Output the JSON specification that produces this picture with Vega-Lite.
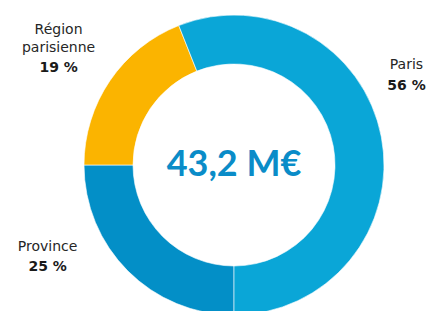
{
  "$schema": "https://vega.github.io/schema/vega-lite/v6.json",
  "width": 300,
  "height": 290,
  "autosize": {"type": "none"},
  "padding": {"left": 84, "top": 20, "right": 43, "bottom": 1},
  "background": "white",
  "config": {"view": {"stroke": null}},
  "data": {
    "values": [
      {"cat": "Province", "label": "Province", "value": 25, "pct": "25 %", "o": 1},
      {"cat": "Région parisienne", "label": "Région\nparisienne", "value": 19, "pct": "19 %", "o": 2},
      {"cat": "Paris", "label": "Paris", "value": 56, "pct": "56 %", "o": 3}
    ]
  },
  "encoding": {
    "theta": {"field": "value", "type": "quantitative", "stack": true, "scale": {"range": [3.14159265, 9.42477796]}},
    "order": {"field": "o", "type": "quantitative"}
  },
  "layer": [
    {
      "mark": {"type": "arc", "innerRadius": 101, "outerRadius": 150, "stroke": "#ffffff", "strokeWidth": 0.6},
      "encoding": {
        "color": {
          "field": "cat", "type": "nominal", "legend": null,
          "scale": {"domain": ["Province", "Région parisienne", "Paris"], "range": ["#038fc7", "#fbb400", "#0aa6d7"]}
        }
      }
    },
    {
      "mark": {
        "type": "text", "radius": 200, "font": "DejaVu Sans", "fontSize": 14, "color": "#262626",
        "align": "center", "baseline": "middle", "lineBreak": "\n", "lineHeight": 18,
        "dx": {"expr": "datum.cat == 'Paris' ? -24 : datum.cat == 'Province' ? -45 : -10"},
        "dy": {"expr": "datum.cat == 'Paris' ? -63 : datum.cat == 'Province' ? -59 : -23"}
      },
      "encoding": {"text": {"field": "label"}}
    },
    {
      "mark": {
        "type": "text", "radius": 200, "font": "DejaVu Sans", "fontSize": 14, "fontWeight": "bold", "color": "#1a1a1a",
        "align": "center", "baseline": "middle",
        "dx": {"expr": "datum.cat == 'Paris' ? -24 : datum.cat == 'Province' ? -45 : -10"},
        "dy": {"expr": "datum.cat == 'Paris' ? -42 : datum.cat == 'Province' ? -39 : 15"}
      },
      "encoding": {"text": {"field": "pct"}}
    },
    {
      "data": {"values": [{"t": "43,2 M€"}]},
      "mark": {"type": "text", "font": "Lato", "fontSize": 36, "fontWeight": "bold", "color": "#0a8cc8", "align": "center", "baseline": "middle"},
      "encoding": {"text": {"field": "t"}, "theta": null, "order": null}
    }
  ]
}
